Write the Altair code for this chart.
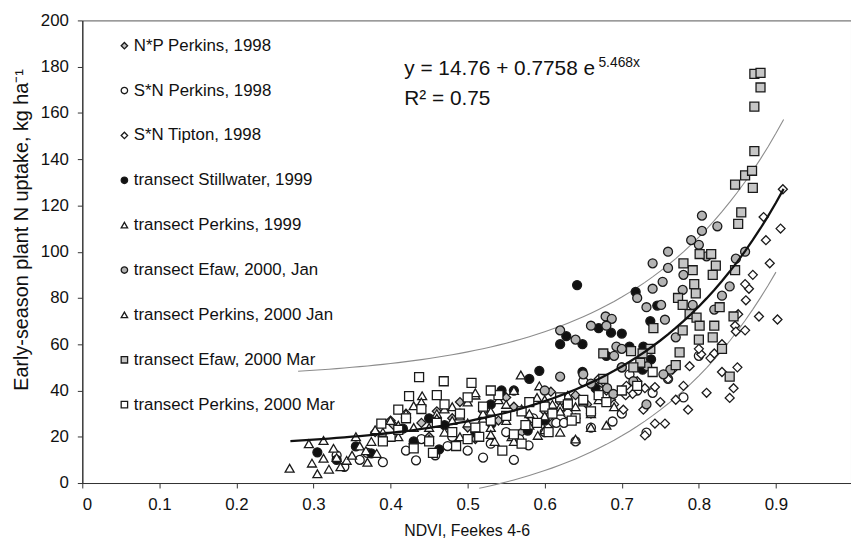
import altair as alt
import numpy as np
import pandas as pd

# ---------------- data ----------------
legend_labels = [
    "N*P Perkins, 1998",
    "S*N Perkins, 1998",
    "S*N Tipton, 1998",
    "transect Stillwater, 1999",
    "transect Perkins, 1999",
    "transect Efaw, 2000, Jan",
    "transect Perkins, 2000 Jan",
    "transect Efaw, 2000 Mar",
    "transect Perkins, 2000 Mar",
]

np_perkins_x = [0.38, 0.40, 0.404, 0.42, 0.44, 0.46, 0.48, 0.50, 0.52, 0.54, 0.56, 0.58, 0.60, 0.608,
                0.62, 0.64, 0.655, 0.67, 0.686, 0.45, 0.51, 0.57, 0.63, 0.43, 0.49, 0.55, 0.61]
np_perkins_y = [22, 27, 25, 30, 26, 31, 28, 24, 31, 27, 33, 29, 31, 39.5,
                35, 38, 34, 42, 36, 20, 19, 22, 30, 17, 35, 37, 26]

sn_perkins_x = [0.33, 0.36, 0.39, 0.433, 0.458, 0.474, 0.50, 0.52, 0.56, 0.567, 0.579, 0.615, 0.625,
                0.640, 0.60, 0.688, 0.732, 0.66, 0.70, 0.72, 0.76, 0.80, 0.78, 0.67, 0.63, 0.55,
                0.48, 0.42, 0.37, 0.53, 0.34, 0.44, 0.585, 0.65, 0.71, 0.74]
sn_perkins_y = [12, 10, 9, 9.8, 12, 16, 14, 11, 10, 19, 16.3, 26, 26,
                18, 22, 26.6, 21.8, 24, 30, 40, 45, 55, 37, 40, 30, 22,
                20, 14, 13, 17, 7, 19, 28, 44, 47, 39]

sn_tipton_x = [0.909, 0.884, 0.906, 0.887, 0.892, 0.865, 0.861, 0.878, 0.902, 0.851, 0.847, 0.848,
               0.850, 0.845, 0.840, 0.810, 0.786, 0.803, 0.815, 0.788, 0.766, 0.760, 0.743, 0.730,
               0.714, 0.728, 0.705, 0.743, 0.756, 0.730, 0.702, 0.706, 0.72, 0.75, 0.77, 0.80,
               0.82, 0.83, 0.86, 0.69, 0.68, 0.66, 0.64, 0.67, 0.78, 0.83, 0.86, 0.87]
sn_tipton_y = [127, 115, 110, 105, 95, 84, 79, 72, 70.7, 73, 68, 65.5,
               50, 41, 36.8, 39, 31.7, 55.7, 54, 50.5, 49, 45, 41.5, 41,
               38.5, 31.7, 38, 25.7, 25.7, 20.6, 31.7, 42, 44, 35, 36, 58,
               56, 60, 66, 34, 40, 30, 28, 45, 42, 48, 86, 90]

stillwater_x = [0.305, 0.355, 0.375, 0.416, 0.463, 0.544, 0.593, 0.628, 0.578, 0.531, 0.649, 0.649,
                0.642, 0.718, 0.746, 0.737, 0.670, 0.686, 0.700, 0.710, 0.728, 0.738, 0.727, 0.666,
                0.33, 0.39, 0.45, 0.49, 0.51, 0.56, 0.60, 0.62, 0.68, 0.70, 0.47, 0.43, 0.53, 0.58]
stillwater_y = [13.3, 15.8, 12.8, 23.5, 14.5, 40, 48.5, 63.5, 22.7, 25.7, 48, 60,
                85.6, 82.6, 76.7, 70, 67, 65, 64.6, 59, 59, 53.5, 49, 41,
                10, 20, 28, 30, 22, 40, 27, 60, 55, 50, 25, 18, 34, 45]

perkins99_x = [0.269, 0.298, 0.294, 0.313, 0.313, 0.326, 0.343, 0.360, 0.368, 0.382, 0.305, 0.335,
               0.35, 0.375, 0.32, 0.33, 0.355, 0.37, 0.39, 0.41, 0.43, 0.441, 0.46, 0.48, 0.50,
               0.52, 0.535, 0.557, 0.569, 0.591, 0.593, 0.45, 0.47, 0.49, 0.51, 0.53, 0.55, 0.58,
               0.60, 0.62]
perkins99_y = [6.4, 8.6, 17, 10.7, 18.4, 15, 9.8, 16, 14, 12.8, 4, 7,
               12, 18, 6, 11, 20, 9, 22, 25, 33.4, 37.7, 30, 27, 35,
               28, 18, 20, 46.7, 20.6, 42, 24, 32, 29, 38, 31, 34, 30,
               36, 33]

efaw_jan_x = [0.804, 0.804, 0.824, 0.800, 0.760, 0.753, 0.679, 0.732, 0.751, 0.779, 0.687, 0.756,
              0.693, 0.681, 0.733, 0.763, 0.792, 0.830, 0.848, 0.715, 0.689, 0.732, 0.754, 0.62,
              0.64, 0.66, 0.68, 0.70, 0.69, 0.65, 0.62, 0.66, 0.74, 0.76, 0.74, 0.72, 0.78, 0.81,
              0.79, 0.77, 0.82, 0.84, 0.86, 0.70, 0.60]
efaw_jan_y = [115.6, 109, 111, 103, 93, 87, 72, 76, 77, 83.5, 71, 70.6,
              59, 41, 50.5, 49, 77, 81, 97, 44, 38.5, 34, 47, 66,
              62, 68, 68, 58, 55, 47, 46, 43, 95, 100, 84, 80, 90, 98,
              105, 63, 75, 85, 100, 50, 40]

perkins00jan_x = [0.40, 0.42, 0.43, 0.44, 0.46, 0.47, 0.48, 0.50, 0.51, 0.52, 0.53, 0.54, 0.55,
                  0.56, 0.57, 0.58, 0.59, 0.60, 0.61, 0.62, 0.63, 0.64, 0.65, 0.66, 0.67, 0.68,
                  0.69, 0.70, 0.45, 0.49, 0.56, 0.62, 0.66, 0.41, 0.38, 0.53, 0.60, 0.64]
perkins00jan_y = [27, 30, 24, 35, 28, 22, 33, 26, 39, 30, 24, 36, 27,
                  40, 32, 25, 37, 29, 34, 31, 38, 33, 35, 30, 36, 25,
                  33, 40, 19, 20, 18, 22, 24, 20, 23, 21, 23, 19]

efaw_mar_x = [0.872, 0.880, 0.880, 0.872, 0.872, 0.847, 0.860, 0.869, 0.870, 0.855, 0.851,
              0.801, 0.816, 0.822, 0.818, 0.847, 0.792, 0.794, 0.796, 0.773, 0.779, 0.788, 0.797,
              0.827, 0.820, 0.818, 0.845, 0.801, 0.779, 0.741, 0.775, 0.770, 0.737, 0.727, 0.712,
              0.676, 0.724, 0.715, 0.676, 0.80, 0.78, 0.83, 0.84]
efaw_mar_y = [176.9, 177.3, 171, 162.7, 143.5, 129, 133, 135, 127.6, 117, 112,
              99, 99, 94, 90, 92, 92, 86, 82, 80, 77, 73, 71.5,
              76, 68, 63, 72, 68, 66, 67, 56.5, 51, 58, 56, 57,
              56, 52, 50, 45, 62, 95, 58, 46]

perkins00mar_x = [0.437, 0.469, 0.505, 0.424, 0.388, 0.410, 0.40, 0.42, 0.44, 0.45, 0.46, 0.47,
                  0.48, 0.49, 0.50, 0.51, 0.52, 0.53, 0.54, 0.55, 0.56, 0.57, 0.58, 0.59, 0.60,
                  0.61, 0.62, 0.63, 0.64, 0.65, 0.66, 0.67, 0.68, 0.70, 0.72, 0.74, 0.43, 0.455,
                  0.485, 0.515, 0.545, 0.575, 0.605, 0.635, 0.39, 0.41, 0.46, 0.50, 0.53, 0.57]
perkins00mar_y = [45.8, 44, 43.3, 37.6, 25.7, 31.7, 20, 28, 32, 18, 26, 34,
                  22, 30, 37, 24, 33, 27, 38, 29, 21, 31, 35, 26, 33,
                  30, 37, 34, 28, 36, 31, 38, 35, 40, 42, 48, 15, 13,
                  16, 20, 14, 25, 22, 27, 18, 23, 38, 19, 40, 17]

series_x = [np_perkins_x, sn_perkins_x, sn_tipton_x, stillwater_x, perkins99_x,
            efaw_jan_x, perkins00jan_x, efaw_mar_x, perkins00mar_x]
series_y = [np_perkins_y, sn_perkins_y, sn_tipton_y, stillwater_y, perkins99_y,
            efaw_jan_y, perkins00jan_y, efaw_mar_y, perkins00mar_y]

# regression printed on the chart: y = 14.76 + 0.7758 e^(5.468x), band +/- 30
fit_a, fit_b, fit_c, band = 14.76, 0.7758, 5.468, 30.0
fit_x = [round(v, 3) for v in np.arange(0.27, 0.9101, 0.01)]
upper_x = [round(v, 3) for v in np.arange(0.28, 0.9101, 0.01)]
lower_x = [0.515] + [round(v, 3) for v in np.arange(0.52, 0.9081, 0.01)]

x_ticks = [0, 0.1, 0.2, 0.3, 0.4, 0.5, 0.6, 0.7, 0.8, 0.9]
y_ticks = [0, 20, 40, 60, 80, 100, 120, 140, 160, 180, 200]

# ---------------- styling ----------------
shapes = ["diamond", "circle", "diamond", "circle", "triangle-up",
          "circle", "triangle-up", "square", "square"]
fills = ["#bdbdbd", "#ffffff", "#ffffff", "#111111", "#ffffff",
         "#b3b3b3", "#ffffff", "#c6c6c6", "#ffffff"]
FONT = "Liberation Sans"

rows = []
for lab, xs, ys in zip(legend_labels, series_x, series_y):
    for xv, yv in zip(xs, ys):
        rows.append({"series": lab, "x": xv, "y": yv})
pts = pd.DataFrame(rows)

def curve(xs, off):
    return pd.DataFrame({"x": xs, "y": [fit_a + fit_b * np.exp(fit_c * v) + off for v in xs]})

fit_df = curve(fit_x, 0.0)
up_df = curve(upper_x, band)
lo_df = curve(lower_x, -band)

xscale = alt.Scale(domain=[0, 0.9974], nice=False, zero=False)
yscale = alt.Scale(domain=[0, 200], nice=False)

xaxis = alt.Axis(values=x_ticks, title="NDVI, Feekes 4-6",
                 labelExpr="datum.value == 0 ? '0' : format(datum.value, '.1f')",
                 grid=False, tickSize=5, labelPadding=9, titlePadding=10,
                 titleFontSize=16)
yaxis = alt.Axis(values=y_ticks, title="Early-season plant N uptake, kg ha\u207b\u00b9",
                 format="d", grid=False, tickSize=5, labelPadding=9, titlePadding=9,
                 titleFontSize=20, titleY=211)

leg = alt.Legend(orient="none", legendX=34, legendY=17, labelLimit=400)
scatter = alt.Chart(pts).mark_point(
    filled=False, size=82, strokeWidth=1.3, opacity=1
).encode(
    x=alt.X("x:Q", scale=xscale, axis=xaxis),
    y=alt.Y("y:Q", scale=yscale, axis=yaxis),
    shape=alt.Shape("series:N", scale=alt.Scale(domain=legend_labels, range=shapes),
                    title=None, legend=leg),
    fill=alt.Fill("series:N", scale=alt.Scale(domain=legend_labels, range=fills),
                  title=None, legend=leg),
    stroke=alt.Stroke("series:N", scale=alt.Scale(domain=legend_labels, range=["#1a1a1a"] * 9),
                      title=None, legend=leg),
)

line_fit = alt.Chart(fit_df).mark_line(color="#111111", strokeWidth=2.3).encode(
    x=alt.X("x:Q", scale=xscale), y=alt.Y("y:Q", scale=yscale))
line_up = alt.Chart(up_df).mark_line(color="#8c8c8c", strokeWidth=1.1).encode(
    x=alt.X("x:Q", scale=xscale), y=alt.Y("y:Q", scale=yscale))
line_lo = alt.Chart(lo_df).mark_line(color="#8c8c8c", strokeWidth=1.1, clip=False).encode(
    x=alt.X("x:Q", scale=xscale), y=alt.Y("y:Q", scale=yscale))

eq_df = pd.DataFrame({"t": ["y = 14.76 + 0.7758 e"]})
eq = alt.Chart(eq_df).mark_text(align="left", baseline="alphabetic", font=FONT,
                                fontSize=21, color="#111").encode(
    x=alt.value(325), y=alt.value(55), text="t:N")
sup_df = pd.DataFrame({"t": ["5.468x"]})
sup = alt.Chart(sup_df).mark_text(align="left", baseline="alphabetic", font=FONT,
                                  fontSize=14, color="#111").encode(
    x=alt.value(521), y=alt.value(47), text="t:N")
r2_df = pd.DataFrame({"t": ["R\u00b2 = 0.75"]})
r2 = alt.Chart(r2_df).mark_text(align="left", baseline="alphabetic", font=FONT,
                                fontSize=21, color="#111").encode(
    x=alt.value(325), y=alt.value(85), text="t:N")

chart = alt.layer(line_up, line_lo, scatter, line_fit, eq, sup, r2).properties(
    width=776, height=467,
    autosize=alt.AutoSizeParams(type="none"),
    padding={"left": 75, "top": 10, "right": 0, "bottom": 57},
).configure_view(
    stroke="#555555", strokeWidth=1
).configure_axis(
    labelFont=FONT, titleFont=FONT, labelFontSize=17,
    labelColor="#111", titleColor="#111", titleFontWeight="normal",
    domainColor="#333", tickColor="#333", domainWidth=1.2
).configure_legend(
    labelFont=FONT, labelFontSize=17, labelColor="#111",
    symbolSize=42, symbolStrokeWidth=1.3,
    rowPadding=27.3, labelOffset=1, symbolOpacity=1
)

chart.save("out.html", embed_options={"renderer": "svg", "actions": False})
